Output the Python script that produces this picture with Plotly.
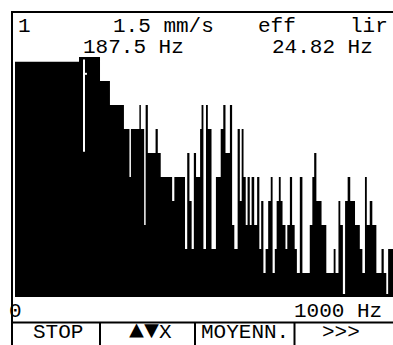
import plotly.graph_objects as go

W, H = 393, 345

# Spectrum: segment start frequencies (Hz) and display level (0..10 scale)
seg_start_hz = [0, 174, 231, 258, 296, 311, 315, 338, 342, 351, 355, 361, 382, 388, 396,
                427, 433, 462, 468, 474, 480, 486, 492, 503, 507, 512, 519, 524, 534, 546,
                559, 566, 572, 584, 590, 596, 605, 611, 616, 621, 627, 632, 638, 643, 650,
                658, 664, 669, 675, 681, 688, 695, 700, 706, 711, 717, 722, 727, 735, 740,
                747, 753, 760, 766, 774, 781, 801, 808, 813, 819, 833, 846, 866, 871, 879,
                884, 891, 897, 904, 911, 924, 937, 944, 951, 956, 964, 971, 982, 996, 1002,
                1009, 1014]
seg_level = [9.8, 10, 9, 8, 7, 5, 7, 8, 7, 3, 8, 6, 7, 6, 5,
             4, 5, 2, 6, 4, 2, 6, 5, 7, 8, 2, 8, 7, 2, 5,
             7, 8, 6, 8, 3, 2, 7, 4, 7, 5, 3, 5, 3, 5, 3,
             5, 2, 4, 1, 2, 4, 5, 1, 2, 4, 5, 4, 3, 2, 3,
             5, 3, 2, 1, 5, 1, 3, 5, 6, 4, 3, 1, 2, 1, 4,
             3, 0.12, 4, 5, 4, 3, 2, 1, 5, 3, 4, 3, 1, 2, 1,
             0.12, 2]
f_end_hz = 1027.2
cursor_hz = 187.5

header_top = ["1", "1.5 mm/s", "eff", "lir"]
header_sub = ["187.5 Hz", "24.82 Hz"]
axis_labels = ["0", "1000 Hz"]
buttons = ["STOP", "▲▼X", "MOYENN.", ">>>"]

def px(x):
    return x / W

def py(y):
    return 1 - y / H

xs = seg_start_hz + [f_end_hz]
ys = seg_level + [seg_level[-1]]

fig = go.Figure()
fig.add_trace(go.Scatter(x=xs, y=ys, mode="lines", line=dict(shape="hv", width=0, color="black"),
                         fill="tozeroy", fillcolor="black", hoverinfo="skip", showlegend=False))
# cursor line
fig.add_trace(go.Scatter(x=[cursor_hz, cursor_hz], y=[6.05, 9.9], mode="lines",
                         line=dict(color="white", width=2), hoverinfo="skip", showlegend=False))
fig.add_trace(go.Scatter(x=[cursor_hz, cursor_hz + 8], y=[9.3, 9.3], mode="lines",
                         line=dict(color="white", width=2), hoverinfo="skip", showlegend=False))

fig.update_layout(
    width=W, height=H, margin=dict(l=0, r=0, t=0, b=0),
    paper_bgcolor="white", plot_bgcolor="white",
    xaxis=dict(domain=[px(15), 1], range=[0, f_end_hz], visible=False, fixedrange=True),
    yaxis=dict(domain=[py(297), py(57)], range=[0, 10], visible=False, fixedrange=True),
)

line = dict(color="black", width=2)
shapes = [
    dict(type="line", xref="paper", yref="paper", x0=px(11), x1=1, y0=py(12), y1=py(12), line=line),
    dict(type="line", xref="paper", yref="paper", x0=px(12), x1=px(12), y0=py(11), y1=0, line=line),
    dict(type="line", xref="paper", yref="paper", x0=px(12), x1=1, y0=py(322.5), y1=py(322.5), line=line),
]
for sx in [100, 195, 294.5]:
    shapes.append(dict(type="line", xref="paper", yref="paper", x0=px(sx), x1=px(sx),
                       y0=py(322.5), y1=0, line=line))
fig.update_layout(shapes=shapes)

FONT = dict(family="Liberation Mono", size=21, color="black")

def ann(text, x, y, xanchor="center"):
    fig.add_annotation(text=text, x=px(x), y=py(y), xref="paper", yref="paper",
                       xanchor=xanchor, yanchor="middle", showarrow=False, font=FONT)

ann(header_top[0], 24.5, 27)
ann(header_top[1], 163.5, 27)
ann(header_top[2], 276.5, 27)
ann(header_top[3], 348, 27, "left")
ann(header_sub[0], 133.5, 48)
ann(header_sub[1], 322.5, 48)
ann(axis_labels[0], 15.5, 311)
ann(axis_labels[1], 338, 311)
ann(buttons[0], 57.5, 332)
tri = buttons[1]
ann('<span style="font-size:25px">' + tri[:2] + '</span>' + tri[2:], 150, 331)
ann(buttons[2], 245.5, 332)
ann(buttons[3], 340.5, 332)

fig.write_html("out.html", config={"displayModeBar": False, "staticPlot": True},
               post_script="document.body.style.margin='0';document.body.style.overflow='hidden';")
